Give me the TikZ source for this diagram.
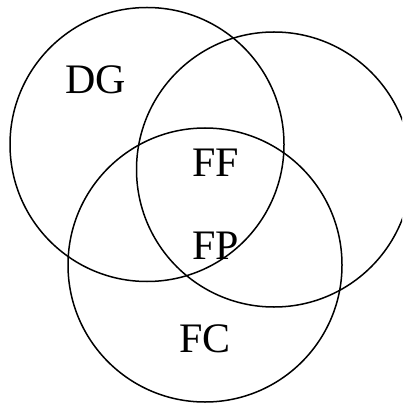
\documentclass[tikz,border=0pt]{standalone}
\usepackage{fontspec}
\setmainfont{Liberation Serif}
\begin{document}
\begin{tikzpicture}[x=1pt,y=-1pt,
  venn/.style={draw=black,line width=1.5pt},
  lbl/.style={font=\fontsize{42}{42}\selectfont,inner sep=0pt,anchor=base}]
\useasboundingbox (0,0) rectangle (402,403);
\clip (0,0) rectangle (402,403);
\fill[white] (0,0) rectangle (402,403);
\draw[venn] (147,144.5) circle[radius=137];
\draw[venn] (274,169.5) circle[radius=137.5];
\draw[venn] (205,265) circle[radius=137];
\node[lbl] (dg) at (96,93.3) {DG};
\node[lbl] (ff) at (215.5,176) {FF};
\node[lbl] (fp) at (216,259) {FP};
\node[lbl] (fc) at (204.7,352.7) {FC};
\end{tikzpicture}
\end{document}
